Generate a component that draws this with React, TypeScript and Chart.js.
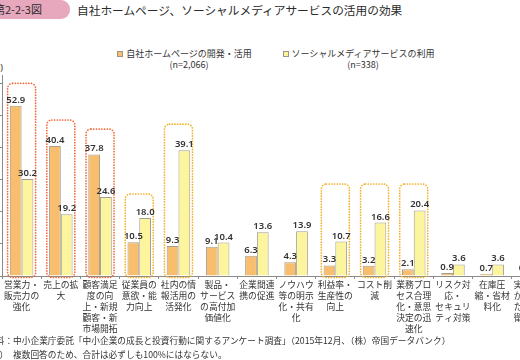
import React, { useEffect, useRef } from "react";
import { Chart, registerables } from "chart.js";

Chart.register(...registerables);

// ---- data ----
const categories: string[][] = [
  ["営業力・", "販売力の", "強化"],
  ["売上の拡", "大"],
  ["顧客満足", "度の向", "上・新規", "顧客・新", "市場開拓"],
  ["従業員の", "意欲・能", "力向上"],
  ["社内の情", "報活用の", "活発化"],
  ["製品・", "サービス", "の高付加", "価値化"],
  ["企業間連", "携の促進"],
  ["ノウハウ", "等の明示", "化・共有", "化"],
  ["利益率・", "生産性の", "向上"],
  ["コスト削", "減"],
  ["業務プロ", "セス合理", "化・意思", "決定の迅", "速化"],
  ["リスク対", "応・", "セキュリ", "ティ対策"],
  ["在庫圧", "縮・省材", "料化"],
  ["実店舗に", "かわる新", "たな販路", "衛星拠点", "：化"],
];
const homepageValues = [52.9, 40.4, 37.8, 10.5, 9.3, 9.1, 6.3, 4.3, 3.3, 3.2, 2.1, 0.9, 0.7, 0.5];
const socialValues = [30.2, 19.2, 24.6, 18.0, 39.1, 10.4, 13.6, 13.9, 10.7, 16.6, 20.4, 3.6, 3.6, 9.0];
// highlighted groups (dotted frames): top of frame in % units, kind of frame
const frameTops: (number | null)[] = [59.9, 48.5, 45.7, 25.5, 47.2, null, null, null, 28.6, 28.6, 28.6, null, null, null];
const frameKinds: (string | null)[] = ["hp", "hp", "hp", "sns", "sns", null, null, null, "sns", "sns", "sns", null, null, null];
const yTicks = [0, 10, 20, 30, 40, 50, 60];
const seriesNames = ["自社ホームページの開発・活用", "ソーシャルメディアサービスの利用"];
const seriesN = ["(n=2,066)", "(n=338)"];
const titleText = "自社ホームページ、ソーシャルメディアサービスの活用の効果";
const figNo = "第2-2-3図";
const sourceNote = "資料：中小企業庁委託「中小企業の成長と投資行動に関するアンケート調査」（2015年12月、（株）帝国データバンク）";
const remarkHead = "（注）";
const remarkNote = "複数回答のため、合計は必ずしも100%にはならない。";

const ORANGE = "#F8BE6E";
const YELLOW = "#FDF59E";
const BAR_BORDER = "#A39E92";
const FRAME_COLORS: Record<string, string> = { hp: "#F2693A", sns: "#F3B12A" };
const CJK = '"Noto Sans CJK JP", "Noto Sans", sans-serif';

const framePlugin = {
  id: "frames",
  afterDatasetsDraw(chart: any) {
    const ctx = chart.ctx;
    const xs = chart.scales.x;
    const ys = chart.scales.y;
    ctx.save();
    frameTops.forEach((top, i) => {
      if (top == null) return;
      const kind = frameKinds[i] as string;
      const cx = xs.getPixelForValue(i);
      const half = 14;
      const y0 = ys.getPixelForValue(top);
      const y1 = ys.getPixelForValue(0) + 1.5;
      const r = 5;
      ctx.beginPath();
      ctx.moveTo(cx - half + r, y0);
      ctx.lineTo(cx + half - r, y0);
      ctx.arcTo(cx + half, y0, cx + half, y0 + r, r);
      ctx.lineTo(cx + half, y1 - r);
      ctx.arcTo(cx + half, y1, cx + half - r, y1, r);
      ctx.lineTo(cx - half + r, y1);
      ctx.arcTo(cx - half, y1, cx - half, y1 - r, r);
      ctx.lineTo(cx - half, y0 + r);
      ctx.arcTo(cx - half, y0, cx - half + r, y0, r);
      ctx.closePath();
      ctx.setLineDash([0.1, 2.6]);
      ctx.lineCap = "round";
      ctx.lineWidth = 1.7;
      ctx.strokeStyle = FRAME_COLORS[kind];
      ctx.stroke();
    });
    ctx.restore();
  },
};

const valueLabelPlugin = {
  id: "valueLabels",
  afterDatasetsDraw(chart: any) {
    const ctx = chart.ctx;
    ctx.save();
    ctx.font = '600 9.5px "Noto Sans", sans-serif';
    ctx.fillStyle = "#333";
    ctx.textAlign = "center";
    ctx.textBaseline = "alphabetic";
    chart.data.datasets.forEach((ds: any, di: number) => {
      const meta = chart.getDatasetMeta(di);
      meta.data.forEach((el: any, i: number) => {
        const v = ds.data[i];
        ctx.fillText(v.toFixed(1), el.x, el.y - 3);
      });
    });
    ctx.restore();
  },
};

function ChartCanvas() {
  const ref = useRef<HTMLCanvasElement | null>(null);
  useEffect(() => {
    if (!ref.current) return;
    const chart = new Chart(ref.current, {
      type: "bar",
      data: {
        labels: categories,
        datasets: [
          {
            label: seriesNames[0],
            data: homepageValues,
            backgroundColor: ORANGE,
            borderColor: BAR_BORDER,
            borderWidth: 1,
          },
          {
            label: seriesNames[1],
            data: socialValues,
            backgroundColor: YELLOW,
            borderColor: BAR_BORDER,
            borderWidth: 1,
          },
        ],
      },
      options: {
        animation: false,
        responsive: false,
        devicePixelRatio: 1,
        layout: { padding: { top: 5, left: 0, right: 0, bottom: 0 } },
        datasets: { bar: { categoryPercentage: 0.6, barPercentage: 1.0 } },
        plugins: { legend: { display: false }, tooltip: { enabled: false } },
        scales: {
          x: {
            grid: { drawOnChartArea: false, drawTicks: true, tickLength: 3, color: "#8a8a8a", offset: true },
            border: { display: true, color: "#8a8a8a" },
            ticks: {
              autoSkip: false,
              maxRotation: 0,
              minRotation: 0,
              padding: 0,
              color: "#333",
              font: { family: CJK, size: 8.8, lineHeight: 1.25 },
            },
            afterFit: (s: any) => {
              s.height = 64;
            },
          },
          y: {
            min: 0,
            max: 62.5,
            grid: { drawOnChartArea: false, drawTicks: true, tickLength: 3, color: "#8a8a8a" },
            border: { display: true, color: "#8a8a8a" },
            ticks: { display: false, stepSize: 10 },
            afterBuildTicks: (s: any) => {
              s.ticks = yTicks.map((v) => ({ value: v }));
            },
            afterFit: (s: any) => {
              s.width = 3;
            },
          },
        },
      },
      plugins: [framePlugin, valueLabelPlugin],
    });
    return () => chart.destroy();
  }, []);
  return <canvas ref={ref} width={552} height={270} style={{ width: 552, height: 270, display: "block" }} />;
}

export default function App() {
  const abs = (s: React.CSSProperties): React.CSSProperties => ({ position: "absolute", ...s });
  return (
    <div
      style={{
        position: "fixed",
        left: 0,
        top: 0,
        width: 520,
        height: 360,
        overflow: "hidden",
        background: "#fff",
        fontFamily: CJK,
        color: "#333",
      }}
    >
      <div
        style={abs({
          left: -20,
          top: 0,
          width: 90,
          height: 19,
          background: "#E7A7BD",
          borderRadius: "0 9px 9px 0",
        })}
      />
      <div style={abs({ left: -6, top: 1, fontSize: 11, lineHeight: "17px", color: "#2a2a2a", whiteSpace: "nowrap" })}>
        {figNo}
      </div>
      <div style={abs({ left: 77, top: 1, fontSize: 11.7, lineHeight: "17px", color: "#2a2a2a", whiteSpace: "nowrap" })}>
        {titleText}
      </div>

      {/* legend */}
      <div style={abs({ left: 117, top: 51, width: 4, height: 4, background: ORANGE, border: "1px solid #9a9488" })} />
      <div style={abs({ left: 126, top: 47.5, width: 126, fontSize: 9, lineHeight: "11px", textAlign: "center", whiteSpace: "nowrap" })}>
        <div>{seriesNames[0]}</div>
        <div>{seriesN[0]}</div>
      </div>
      <div style={abs({ left: 283, top: 51, width: 4, height: 4, background: YELLOW, border: "1px solid #9a9488" })} />
      <div style={abs({ left: 291, top: 47.5, width: 144, fontSize: 9, lineHeight: "11px", textAlign: "center", whiteSpace: "nowrap" })}>
        <div>{seriesNames[1]}</div>
        <div>{seriesN[1]}</div>
      </div>

      <div style={abs({ left: -20, top: 62, width: 23, fontSize: 9, lineHeight: "11px", textAlign: "right", fontFamily: '"Noto Sans", sans-serif' })}>
        (%)
      </div>

      <div style={abs({ left: -1, top: 70, width: 552, height: 270 })}>
        <ChartCanvas />
      </div>

      <div style={abs({ left: -13, top: 334, fontSize: 8.7, lineHeight: "14px", whiteSpace: "nowrap" })}>
        {sourceNote}
      </div>
      <div style={abs({ left: -18, top: 348, fontSize: 8.7, lineHeight: "14px", whiteSpace: "nowrap" })}>
        {remarkHead}
      </div>
      <div style={abs({ left: 13, top: 348, fontSize: 8.7, lineHeight: "14px", whiteSpace: "nowrap" })}>
        {remarkNote}
      </div>
    </div>
  );
}
